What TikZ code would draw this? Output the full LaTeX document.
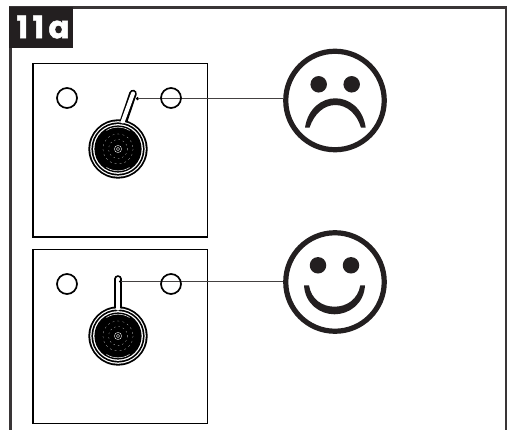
\documentclass[tikz,border=0pt]{standalone}
\usepackage{fontspec}
\setmainfont{Poppins}[BoldFont=Poppins Bold,BoldFeatures={FakeBold=1.6}]
\definecolor{ink}{HTML}{231F20}
\tikzset{
  x=1pt,y=-1pt,
  panelbox/.style={draw=black,line width=1.5pt,fill=white,minimum width=174.5pt,minimum height=173.5pt,inner sep=0pt},
  hole/.style={circle,draw=black,line width=1.7pt,fill=white,minimum size=20pt,inner sep=0pt},
  face/.style={circle,draw=ink,line width=5.2pt,minimum size=98.5pt,inner sep=0pt},
  eye/.style={circle,fill=ink,minimum size=16.5pt,inner sep=0pt},
  leader/.style={draw=ink!85,line width=1pt},
  pin/.style={circle,fill=black,minimum size=3.5pt,inner sep=0pt},
}
\newcommand{\gaugedial}[1]{%
  \begin{scope}[shift={(#1)}]
    \fill[black] (0,0) circle[radius=29.6];
    \fill[white] (0,0) circle[radius=27.8];
    \fill[black] (0,0) circle[radius=26.6];
    \fill[white] (0,0) circle[radius=24.9];
    \fill[black] (0,0) circle[radius=23.6];
    \draw[white,line width=0.5pt] (-58:21.8) arc[start angle=-58,end angle=-122,radius=21.8];
    \draw[white,line width=0.5pt] (58:21.8) arc[start angle=58,end angle=122,radius=21.8];
    \draw[white,line width=0.15pt,dash pattern=on 2pt off 3pt] (0,0) circle[radius=15];
    \draw[white,line width=0.2pt,dash pattern=on 1.5pt off 3pt] (0,0) circle[radius=9.5];
    \draw[white,line width=0.35pt] (0,0) circle[radius=3.6];
    \draw[white,line width=0.35pt] (0,0) circle[radius=1.6];
  \end{scope}}
\begin{document}
\begin{tikzpicture}
\useasboundingbox (0,0) rectangle (514,430);
\fill[white] (0,0) rectangle (514,430);
% frame
\draw[ink!90,line width=2.6pt] (10.5,430) -- (10.5,7.3) -- (506,7.3) -- (506,430);
\node[fill=ink,minimum width=64pt,minimum height=40.5pt,inner sep=0pt,anchor=north west] (tag) at (9,7) {};
\node[text=white,font=\bfseries\fontsize{31}{31}\selectfont\addfontfeatures{LetterSpace=14},anchor=center] (tagtext) at (43,27) {11a};
% panels
\node[panelbox,anchor=north west] (p1) at (32,63) {};
\node[panelbox,anchor=north west] (p2) at (32,249) {};
% holes
\node[hole] (h1l) at (67,98) {};
\node[hole] (h2l) at (67,284) {};
% handles and dials
\draw[black,line width=7.6pt,line cap=round] (122,126) -- (133,93.5);
\draw[black,line width=7.6pt,line cap=round] (118,312) -- (118,279);
\gaugedial{118,149}
\gaugedial{118,336}
\draw[white,line width=4pt,line cap=round] (122.8,121.5) -- (133,93.5);
\draw[white,line width=4pt,line cap=round] (118,308.6) -- (118,279);
% faces
\node[face] (f1) at (335,100.5) {};
\node[face] (f2) at (335,282) {};
\node[eye] (e1a) at (318.7,84.3) {};
\node[eye] (e1b) at (351.7,84.3) {};
\node[eye] (e2a) at (318,265.3) {};
\node[eye] (e2b) at (351,265.3) {};
\fill[ink] (305,127.7) .. controls (308,108) and (322,98.3) .. (335.3,98.3)
  .. controls (349,98.3) and (363,108) .. (365.7,127.7) -- (361,127.7)
  .. controls (357,114) and (347,105) .. (335.3,105)
  .. controls (324,105) and (314,114) .. (309.5,127.7) -- cycle;
\fill[ink] (304,285.3) .. controls (305,304) and (320,314.3) .. (334.5,314.3)
  .. controls (349,314.3) and (364,304) .. (365,285.3) -- (360.3,285.3)
  .. controls (358,299) and (347,306.7) .. (334.5,306.7)
  .. controls (322,306.7) and (311,299) .. (309,285.3) -- cycle;
% leaders
\node[pin] (t1) at (137.5,98.7) {};
\node[pin] (t2) at (120.5,281.5) {};
\draw[leader] (t1.center) -- (f1.west |- t1);
\draw[leader] (t2.center) -- (f2.west |- t2);
% right holes (lines pass through)
\node[hole,fill=none] (h1r) at (171,98) {};
\node[hole,fill=none] (h2r) at (171,284) {};
\end{tikzpicture}
\end{document}
